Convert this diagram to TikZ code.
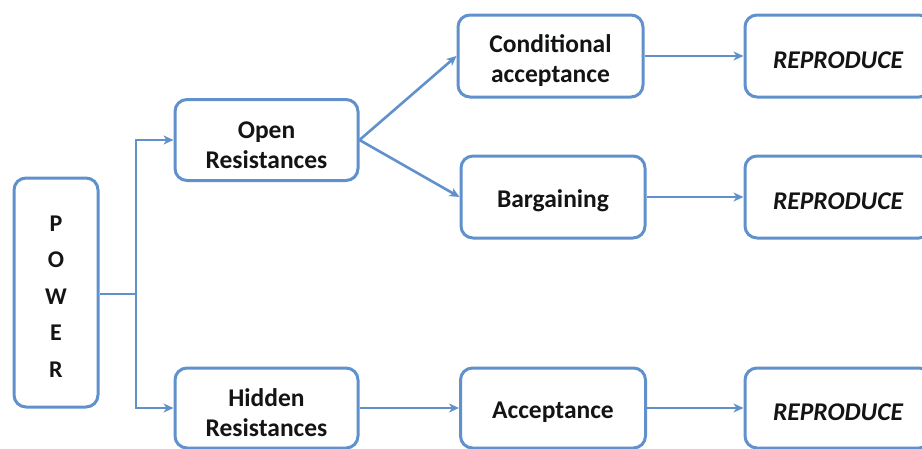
\documentclass[tikz,border=0pt]{standalone}
\usepackage{fontspec}
\setmainfont{Carlito}
\usetikzlibrary{arrows.meta}
\definecolor{boxblue}{RGB}{96,145,205}
\definecolor{txt}{RGB}{20,20,20}
\tikzset{
  box/.style={draw=boxblue, line width=3pt, rounded corners=12pt, fill=white, inner sep=0pt},
  lbl/.style={align=center, text=txt, font=\fontsize{25.5}{30}\selectfont\bfseries, inner sep=0pt},
  conn/.style={draw=boxblue, line width=2.6pt, -{Stealth[length=10pt,width=9pt,inset=3pt]}},
  plain/.style={draw=boxblue, line width=2.6pt}
}
\begin{document}
\begin{tikzpicture}[x=1pt,y=-1pt]
\useasboundingbox (0,0) rectangle (922,448);
\clip (0,0) rectangle (922,448);
\node[box, minimum width=84pt, minimum height=229pt] (power) at (56,292.5) {};
\node[box, minimum width=183pt, minimum height=81pt] (open) at (266.5,140) {};
\node[box, minimum width=183pt, minimum height=80pt] (hidden) at (266.5,408) {};
\node[box, minimum width=185pt, minimum height=82pt] (cond) at (550.5,56) {};
\node[box, minimum width=184pt, minimum height=82pt] (barg) at (553,197) {};
\node[box, minimum width=185pt, minimum height=80pt] (accept) at (553,408) {};
\node[box, minimum width=186pt, minimum height=82pt] (rep1) at (838,56) {};
\node[box, minimum width=186pt, minimum height=82pt] (rep2) at (838,197) {};
\node[box, minimum width=186pt, minimum height=80pt] (rep3) at (838,408) {};
\node[lbl, font=\fontsize{24}{36.5}\selectfont\bfseries] (powerT) at ([yshift=-4pt]power.center) {P\\O\\W\\E\\R};
\node[lbl] (openT) at ([yshift=-5pt]open.center) {Open\\Resistances};
\node[lbl] (hiddenT) at ([yshift=-5pt]hidden.center) {Hidden\\Resistances};
\node[lbl] (condT) at ([yshift=-5pt]cond.center) {Conditional\\acceptance};
\node[lbl] (bargT) at ([yshift=-4pt]barg.center) {Bargaining};
\node[lbl] (acceptT) at ([yshift=-4pt]accept.center) {Acceptance};
\node[lbl] (rep1T) at ([yshift=-4pt]rep1.center) {\itshape REPRODUCE};
\node[lbl] (rep2T) at ([yshift=-4pt]rep2.center) {\itshape REPRODUCE};
\node[lbl] (rep3T) at ([yshift=-4pt]rep3.center) {\itshape REPRODUCE};
\coordinate (split) at (136,294);
\draw[plain] (power.east |- split) -- (split);
\draw[conn] (split) |- (open.west);
\draw[conn] (split) |- (hidden.west);
\draw[conn] (open.east) -- (cond.west);
\draw[conn] (open.east) -- (barg.west);
\draw[conn] (cond.east) -- (rep1.west);
\draw[conn] (barg.east) -- (rep2.west);
\draw[conn] (hidden.east) -- (accept.west);
\draw[conn] (accept.east) -- (rep3.west);
\end{tikzpicture}
\end{document}
